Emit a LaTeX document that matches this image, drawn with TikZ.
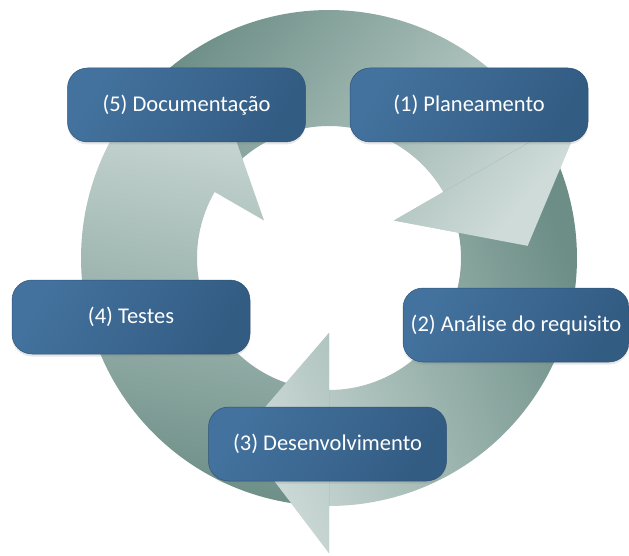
\documentclass[tikz,border=0pt]{standalone}
\usepackage{fontspec}
\setmainfont{Carlito}
\usetikzlibrary{shadows}

% ring and box colours
\definecolor{ringdark}{RGB}{108,142,134}
\definecolor{ringlight}{RGB}{206,219,216}
\definecolor{boxlight}{RGB}{67,114,158}
\definecolor{boxdark}{RGB}{51,92,131}
\definecolor{boxedge}{RGB}{47,84,120}

\pgfdeclarehorizontalshading{ringshade}{100bp}{color(0bp)=(ringdark); color(25bp)=(ringdark); color(75bp)=(ringlight); color(100bp)=(ringlight)}
\pgfdeclarehorizontalshading{boxshade}{100bp}{color(0bp)=(boxlight); color(25bp)=(boxlight); color(75bp)=(boxdark); color(100bp)=(boxdark)}

% one block-arc arrow of the cycle; #1 = angle of the barb line (clockwise)
\newcommand\ringarrow[1]{plot[domain=#1-120:#1, samples=73] (\x:248) -- (#1:295) -- ({#1+26.5}:199) -- (#1:75) -- (#1:132) -- plot[domain=#1:#1-120, samples=73] (\x:132) -- cycle}
% the head triangle of that arrow
\newcommand\ringhead[1]{(#1:295) -- ({#1+26.5}:199) -- (#1:75) -- cycle}

\begin{document}
\begin{tikzpicture}[x=1pt, y=-1pt,
  stage/.style={shade, shading=boxshade, shading angle=-30,
    draw=boxedge, line width=0.5pt,
    rounded corners=20pt, minimum width=238pt, minimum height=74pt,
    inner sep=0pt, text=white, font=\fontsize{22.5}{26}\selectfont,
    drop shadow={opacity=0.2, shadow xshift=0pt, shadow yshift=-2.5pt}}]
\useasboundingbox (0,0) rectangle (629,556);

% the three arrows of the cycle
\begin{scope}[shift={(329,258)}]
  \shade[shading=ringshade, shading angle=-40] \ringarrow{330};
  \shade[shading=ringshade, shading angle=200] \ringarrow{90};
  \shade[shading=ringshade, shading angle=80] \ringarrow{210};
  % heads lie on top of the following tails
  \begin{scope}
    \clip \ringhead{330};
    \shade[shading=ringshade, shading angle=-40] \ringarrow{330};
  \end{scope}
  \begin{scope}
    \clip \ringhead{90};
    \shade[shading=ringshade, shading angle=200] \ringarrow{90};
  \end{scope}
\end{scope}

% stages
\node[stage] (doc)  at (186.5,105) {(5) Documentação};
\node[stage] (plan) at (469,105)   {(1) Planeamento};
\node[stage] (test) at (131,317)   {(4) Testes};
\node[stage, minimum width=226pt] (anal) at (516,325) {(2) Análise do requisito};
\node[stage] (dev)  at (327.5,444) {(3) Desenvolvimento};
\end{tikzpicture}
\end{document}
